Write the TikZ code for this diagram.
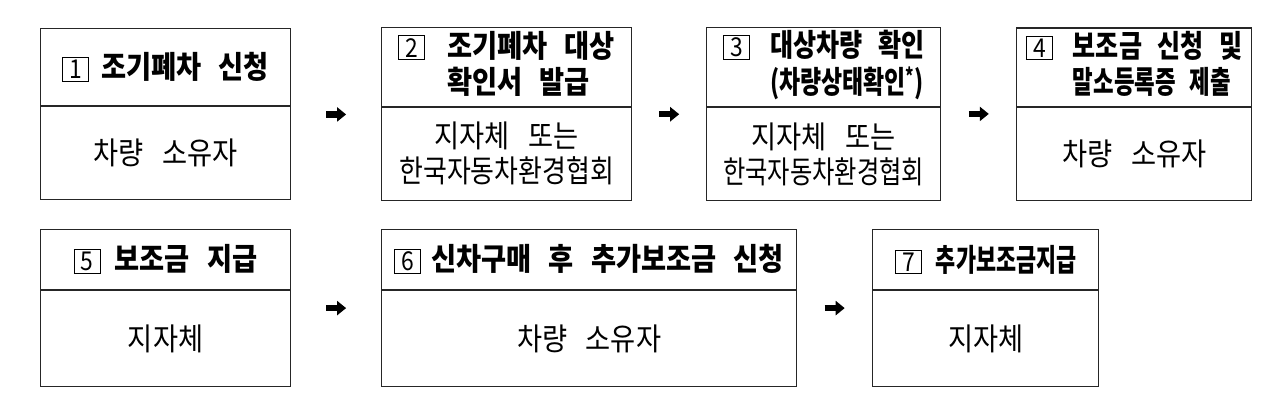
\documentclass[tikz,border=0pt]{standalone}
\usepackage{fontspec}
\setmainfont{Noto Sans CJK KR}[FakeStretch=0.88]
\usepackage{graphicx}
\usetikzlibrary{positioning,calc,arrows.meta}

% numbered step square, squeezed text, hanging two-line title
\newcommand{\stepno}[1]{{\setlength{\fboxsep}{2pt}\setlength{\fboxrule}{1pt}%
  \fbox{\makebox[21pt]{\fontsize{26}{26}\selectfont\mdseries #1}}}}
\newcommand{\narrow}[2]{\scalebox{#1}[1]{#2}}
\newcommand{\twolines}[2]{\begin{tabular}[t]{@{}l@{}}#1\\#2\end{tabular}}
\newcommand{\headfont}{\fontsize{31}{33}\selectfont\bfseries\spaceskip=0.55em\relax}
\newcommand{\bodyfont}{\fontsize{31}{35}\selectfont\spaceskip=0.6em\relax}

\begin{document}
\begin{tikzpicture}[x=1pt,y=-1pt,
    head/.style={draw=black!85, line width=1.1pt, inner sep=3pt,
      align=center, font=\headfont},
    body/.style={draw=black!85, line width=1.1pt, inner sep=3pt,
      align=center, font=\bodyfont},
    flow/.style={-{Triangle[length=9pt,width=14pt]}, line width=6.5pt, black}
  ]
  \fill[white] (0,0) rectangle (1282,415);
  \useasboundingbox (0,0) rectangle (1282,415);

  %% --- first row -------------------------------------------------------
  \node[head, anchor=north west, minimum width=250pt, minimum height=77pt] (h1) at (40,28)
    {\stepno{1}\hspace{12pt}조기폐차 신청};
  \node[body, below=0pt of h1, minimum width=250pt, minimum height=93pt] (b1)
    {차량 소유자};

  \node[head, right=90pt of h1, minimum width=250pt, minimum height=77pt] (h2)
    {\stepno{2}\hspace{22pt}\twolines{조기폐차 대상}{확인서 발급}};
  \node[body, below=0pt of h2, minimum width=250pt, minimum height=93pt] (b2)
    {지자체 또는\\\narrow{0.95}{한국자동차환경협회}};

  \node[head, right=74pt of h2, minimum width=234pt, minimum height=77pt] (h3)
    {\stepno{3}\hspace{20pt}\twolines{\narrow{0.92}{대상차량 확인}}{\narrow{0.84}{(차량상태확인\textsuperscript{*})}}};
  \node[body, below=0pt of h3, minimum width=234pt, minimum height=93pt] (b3)
    {지자체 또는\\\narrow{0.89}{한국자동차환경협회}};

  \node[head, right=75pt of h3, minimum width=235pt, minimum height=77pt] (h4)
    {\stepno{4}\hspace{20pt}\twolines{\narrow{0.92}{보조금 신청 및}}{\narrow{0.82}{말소등록증 제출}}};
  \node[body, below=0pt of h4, minimum width=235pt, minimum height=93pt] (b4)
    {차량 소유자};

  %% --- second row ------------------------------------------------------
  \node[head, anchor=north west, minimum width=250pt, minimum height=60pt] (h5) at (40,229)
    {\stepno{5}\hspace{14pt}보조금 지급};
  \node[body, below=0pt of h5, minimum width=250pt, minimum height=96pt] (b5)
    {지자체};

  \node[head, right=90pt of h5, minimum width=415pt, minimum height=60pt] (h6)
    {\stepno{6}\hspace{10pt}신차구매 후 추가보조금 신청};
  \node[body, below=0pt of h6, minimum width=415pt, minimum height=96pt] (b6)
    {차량 소유자};

  \node[head, right=75pt of h6, minimum width=226pt, minimum height=60pt] (h7)
    {\stepno{7}\hspace{14pt}\narrow{0.8}{추가보조금지급}};
  \node[body, below=0pt of h7, minimum width=226pt, minimum height=96pt] (b7)
    {지자체};

  %% --- arrows between the steps ---------------------------------------
  \coordinate (m1) at ($(h1.north east)!0.5!(b2.south west)$);
  \coordinate (m2) at ($(h2.north east)!0.5!(b3.south west)$);
  \coordinate (m3) at ($(h3.north east)!0.5!(b4.south west)$);
  \coordinate (m4) at ($(h5.north east)!0.5!(b6.south west)$);
  \coordinate (m5) at ($(h6.north east)!0.5!(b7.south west)$);
  \foreach \m in {m1,m2,m3,m4,m5}
    \draw[flow] ([xshift=-10pt]\m) -- ([xshift=10pt]\m);
\end{tikzpicture}
\end{document}
